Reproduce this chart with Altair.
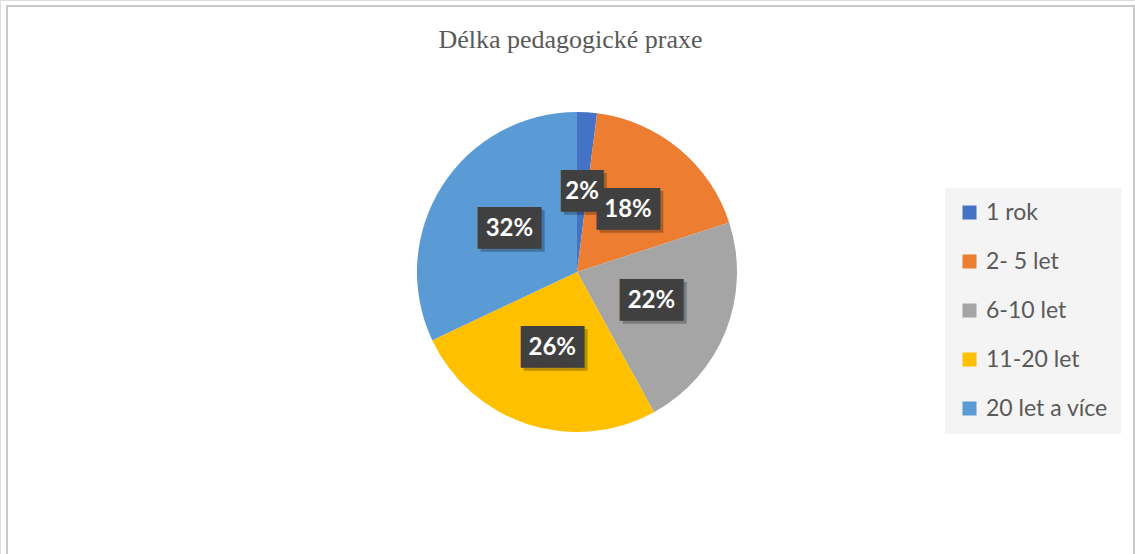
import altair as alt
import pandas as pd

categories = ["1 rok", "2- 5 let", "6-10 let", "11-20 let", "20 let a více"]
values = [2, 18, 22, 26, 32]
labels = ["2%", "18%", "22%", "26%", "32%"]
colors = ["#4472C4", "#ED7D31", "#A5A5A5", "#FFC000", "#5B9BD5"]

df = pd.DataFrame({
    "cat": categories,
    "value": values,
    "label": labels,
    "order": list(range(len(categories))),
})
df["box"] = ["\u2588" * len(l) for l in labels]

CX, CY = 577, 272

base = alt.Chart(df).encode(
    theta=alt.Theta("value:Q", stack=True),
    order=alt.Order("order:Q", sort="ascending"),
    x=alt.value(CX),
    y=alt.value(CY),
)

pie = base.mark_arc(outerRadius=160).encode(
    color=alt.Color(
        "cat:N",
        scale=alt.Scale(domain=categories, range=colors),
        legend=alt.Legend(
            title=None, orient="none", legendX=945, legendY=188, direction="vertical",
            fillColor="#F4F4F4", padding=13, symbolType="square", symbolSize=196,
            symbolStrokeWidth=0, labelFont="Lato", labelFontSize=23, labelColor="#595959",
            rowPadding=25, labelOffset=5, symbolOffset=0,
        ),
    )
)

shadow = base.mark_text(radius=80, font="DejaVu Sans Mono", fontSize=35, color="#000000",
                        opacity=0.25, dx=3, dy=3, baseline="middle").encode(text="box:N")
box = base.mark_text(radius=80, font="DejaVu Sans Mono", fontSize=35, color="#404040",
                     baseline="middle").encode(text="box:N")
txt = base.mark_text(radius=80, font="Lato", fontSize=24, fontWeight="bold", color="#FFFFFF",
                     baseline="middle").encode(text="label:N")

border = alt.Chart(df).mark_rect(fill=None, stroke="#C8C8C8", strokeWidth=2).encode(
    x=alt.value(7), y=alt.value(6), x2=alt.value(1134), y2=alt.value(600)
)

chart = alt.layer(border, pie, shadow, box, txt).properties(
    width=1135, height=554,
    autosize=alt.AutoSizeParams(type="none"),
    padding=0,
    title=alt.TitleParams(
        text="Délka pedagogické praxe", font="Liberation Serif", fontSize=26,
        fontWeight="normal", color="#595959", anchor="middle", offset=0,
        baseline="alphabetic", dy=74, dx=3,
    ),
).configure_view(stroke=None).configure(background="#FFFFFF")

chart.save("out.html", embed_options={"renderer": "svg", "actions": False})
